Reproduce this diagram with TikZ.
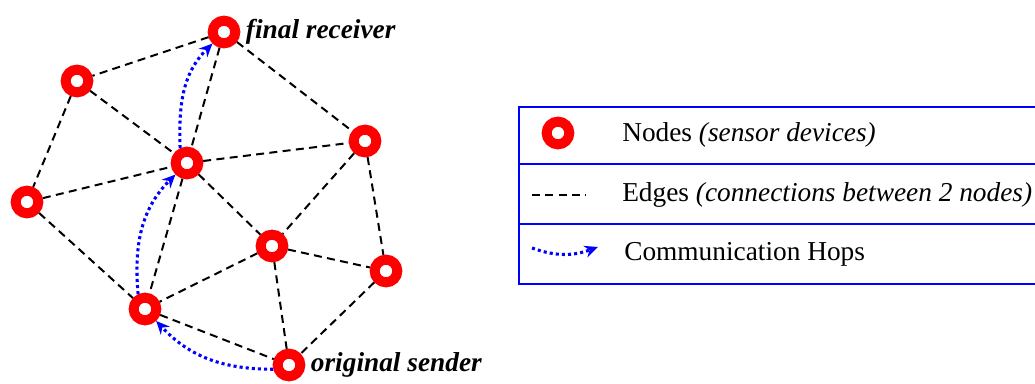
\documentclass[tikz,border=0pt]{standalone}
\usepackage{fontspec}
\setmainfont{Liberation Serif}
\usetikzlibrary{arrows.meta,positioning}

\begin{document}
\begin{tikzpicture}[
            x=0.75pt,
            y=-0.75pt,
            sensor/.style={
                circle,
                draw=red,
                fill=white,
                line width=7.5pt,
                minimum size=17pt,
                inner sep=0pt
            },
            link/.style={
                black,
                line width=1.5pt,
                dash pattern=on 6pt off 4pt
            },
            hop/.style={
                blue,
                line width=2.3pt,
                dash pattern=on 2.3pt off 2.3pt,
                -{Stealth[length=10pt,width=9pt]}
            },
            tag/.style={
                font=\fontsize{20.5}{24}\selectfont\bfseries\itshape,
                inner sep=1pt
            },
            legtext/.style={
                font=\fontsize{20.5}{24}\selectfont,
                anchor=west,
                inner sep=0pt
            },
            legbox/.style={
                draw=blue,
                line width=1.1pt
            }
        ]

% Picture size
            \useasboundingbox (0,0) rectangle (1035,383);

% Sensor nodes
            \node[sensor] (rx)  at (224,32)  {};
            \node[sensor] (nw)  at (77,81)   {};
            \node[sensor] (w)   at (27,202)  {};
            \node[sensor] (hub) at (187,163) {};
            \node[sensor] (e)   at (365,141) {};
            \node[sensor] (mid) at (272,246) {};
            \node[sensor] (se)  at (386,271) {};
            \node[sensor] (sw)  at (145,309) {};
            \node[sensor] (tx)  at (289,365) {};

% Edges between nodes
            \foreach \a/\b in {rx/nw,rx/hub,rx/e,nw/hub,nw/w,w/hub,w/sw,hub/e,hub/mid,hub/sw,
                               e/mid,e/se,mid/se,mid/sw,mid/tx,se/tx,sw/tx} {
                \draw[link] (\a) -- (\b);
            }

% Communication hops: sender -> sw -> hub -> receiver
            \draw[hop] (tx.195) to[out=180,in=-47] (sw.-47);
            \draw[hop] (sw.115) to[out=95,in=-135] (hub.-135);
            \draw[hop] (hub.115) to[out=92,in=-135] (rx.-135);

% Labels
            \node[tag, right=3pt of rx] (rxlbl) {final receiver};
            \node[tag, right=3pt of tx] (txlbl) {original sender};

% Legend box
            \draw[legbox] (519,107) rectangle (1045,284);
            \draw[legbox] (519,164) -- (1045,164);
            \draw[legbox] (519,224) -- (1045,224);

% Legend symbols
            \node[sensor] (legnode) at (558,133) {};
            \coordinate (ea) at (532,195);
            \coordinate (eb) at (586,195);
            \draw[link] (ea) -- (eb);
            \coordinate (ha) at (532,248);
            \coordinate (hb) at (598,247);
            \draw[hop] (ha) to[out=-20,in=200] (hb);

% Legend texts
            \node[legtext] (lnodes) at (622,135) {Nodes \textit{(sensor devices)}};
            \node[legtext] (ledges) at (622,195) {Edges \textit{(connections between 2 nodes)}};
            \node[legtext] (lhops)  at (624,254) {Communication Hops};

        \end{tikzpicture}
\end{document}
